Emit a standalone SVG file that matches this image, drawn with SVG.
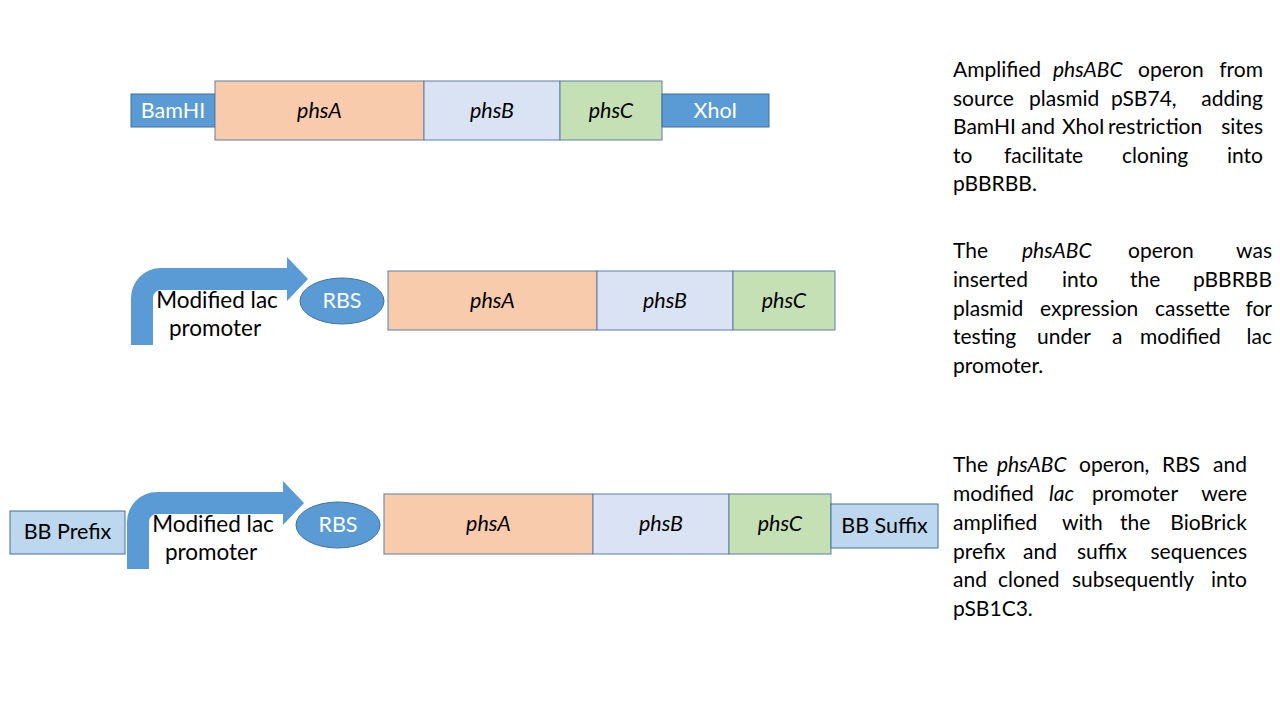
<svg xmlns="http://www.w3.org/2000/svg" width="1280" height="720" viewBox="0 0 1280 720">
<style>
  .site{fill:#5B9BD5;stroke:#41719C;stroke-width:1}
  .bb{fill:#BDD7EE;stroke:#41719C;stroke-width:1}
  .ga{fill:#F8CBAD;stroke:#5F7FA6;stroke-width:1}
  .gb{fill:#DAE3F3;stroke:#5F7FA6;stroke-width:1}
  .gc{fill:#C5E0B4;stroke:#5F7FA6;stroke-width:1}
  .prom{fill:#5B9BD5;stroke:none}
  .rbs{fill:#5B9BD5;stroke:#41719C;stroke-width:1}
  text{font-family:Lato,"Liberation Sans",sans-serif;font-size:21.5px}
  .w{fill:#FFFFFF;text-anchor:middle}
  .k{fill:#000000;text-anchor:middle}
  .pl{font-size:22.5px}
  .i{font-style:italic}
  .p{fill:#000000;font-size:21px}
  .e{text-anchor:end}
</style>
<rect width="1280" height="720" fill="#FFFFFF"/>

<!-- Row 1 -->
<g id="r1-bamhi"><rect class="site" x="131" y="94" width="84" height="33"/><text class="w" x="173" y="118">BamHI</text></g>
<g id="r1-phsA"><rect class="ga" x="215" y="81" width="209" height="59"/><text class="k i" x="319.5" y="118">phsA</text></g>
<g id="r1-phsB"><rect class="gb" x="424" y="81" width="136" height="59"/><text class="k i" x="492" y="118">phsB</text></g>
<g id="r1-phsC"><rect class="gc" x="560" y="81" width="102" height="59"/><text class="k i" x="611" y="118">phsC</text></g>
<g id="r1-xhoi"><rect class="site" x="662" y="94" width="107" height="33"/><text class="w" x="715.5" y="118">XhoI</text></g>

<!-- Row 2 -->
<g id="r2-promoter">
  <path class="prom" d="M131,345 L131,298 A30,30 0 0 1 161,268 L287,268 L287,257 L308,279 L287,301 L287,290 L161,290 A8,8 0 0 0 153,298 L153,345 Z"/>
  <text class="k pl" x="217" y="308">Modified lac</text>
  <text class="k pl" x="215" y="336">promoter</text>
</g>
<g id="r2-rbs"><ellipse class="rbs" cx="342" cy="301" rx="42" ry="23"/><text class="w" x="342" y="308">RBS</text></g>
<g id="r2-phsA"><rect class="ga" x="388" y="271" width="209" height="59"/><text class="k i" x="492.5" y="308">phsA</text></g>
<g id="r2-phsB"><rect class="gb" x="597" y="271" width="136" height="59"/><text class="k i" x="665" y="308">phsB</text></g>
<g id="r2-phsC"><rect class="gc" x="733" y="271" width="102" height="59"/><text class="k i" x="784" y="308">phsC</text></g>

<!-- Row 3 -->
<g id="r3-prefix"><rect class="bb" x="10" y="511" width="115" height="43"/><text class="k" x="67.5" y="539">BB Prefix</text></g>
<g id="r3-promoter">
  <path class="prom" d="M127,569 L127,522 A30,30 0 0 1 157,492 L283,492 L283,481 L304,503 L283,525 L283,514 L157,514 A8,8 0 0 0 149,522 L149,569 Z"/>
  <text class="k pl" x="213" y="532">Modified lac</text>
  <text class="k pl" x="211" y="560">promoter</text>
</g>
<g id="r3-rbs"><ellipse class="rbs" cx="338" cy="525" rx="42" ry="23"/><text class="w" x="338" y="532">RBS</text></g>
<g id="r3-phsA"><rect class="ga" x="384" y="494" width="209" height="60"/><text class="k i" x="488.5" y="531">phsA</text></g>
<g id="r3-phsB"><rect class="gb" x="593" y="494" width="136" height="60"/><text class="k i" x="661" y="531">phsB</text></g>
<g id="r3-phsC"><rect class="gc" x="729" y="494" width="102" height="60"/><text class="k i" x="780" y="531">phsC</text></g>
<g id="r3-suffix"><rect class="bb" x="831" y="504" width="107" height="44"/><text class="k" x="884.5" y="533">BB Suffix</text></g>

<!-- Descriptions -->
<g id="desc1">
  <text class="p" y="77"><tspan x="953">Amplified</tspan><tspan x="1053" class="i">phsABC</tspan><tspan x="1138">operon</tspan></text>
  <text class="p e" x="1263" y="77">from</text>
  <text class="p" y="106"><tspan x="953">source</tspan><tspan x="1029">plasmid</tspan><tspan x="1111">pSB74,</tspan></text>
  <text class="p e" x="1263" y="106">adding</text>
  <text class="p" y="134"><tspan x="953">BamHI</tspan><tspan x="1021">and</tspan><tspan x="1062">XhoI</tspan><tspan x="1108">restriction</tspan></text>
  <text class="p e" x="1263" y="134">sites</text>
  <text class="p" y="163"><tspan x="953">to</tspan><tspan x="1004">facilitate</tspan><tspan x="1122">cloning</tspan></text>
  <text class="p e" x="1263" y="163">into</text>
  <text class="p" x="953" y="191">pBBRBB.</text>
</g>
<g id="desc2">
  <text class="p" y="258"><tspan x="953">The</tspan><tspan x="1022" class="i">phsABC</tspan><tspan x="1128">operon</tspan></text>
  <text class="p e" x="1272" y="258">was</text>
  <text class="p" y="287"><tspan x="953">inserted</tspan><tspan x="1062">into</tspan><tspan x="1130">the</tspan></text>
  <text class="p e" x="1272" y="287">pBBRBB</text>
  <text class="p" y="316"><tspan x="953">plasmid</tspan><tspan x="1040">expression</tspan><tspan x="1155">cassette</tspan></text>
  <text class="p e" x="1272" y="316">for</text>
  <text class="p" y="344"><tspan x="953">testing</tspan><tspan x="1037">under</tspan><tspan x="1112">a</tspan><tspan x="1140">modified</tspan></text>
  <text class="p e" x="1272" y="344">lac</text>
  <text class="p" x="953" y="373">promoter.</text>
</g>
<g id="desc3">
  <text class="p" y="472"><tspan x="953">The</tspan><tspan x="997" class="i">phsABC</tspan><tspan x="1079">operon,</tspan><tspan x="1162">RBS</tspan></text>
  <text class="p e" x="1247" y="472">and</text>
  <text class="p" y="501"><tspan x="953">modified</tspan><tspan x="1049" class="i">lac</tspan><tspan x="1092">promoter</tspan></text>
  <text class="p e" x="1247" y="501">were</text>
  <text class="p" y="530"><tspan x="953">amplified</tspan><tspan x="1062">with</tspan><tspan x="1120">the</tspan></text>
  <text class="p e" x="1247" y="530">BioBrick</text>
  <text class="p" y="559"><tspan x="953">prefix</tspan><tspan x="1023">and</tspan><tspan x="1077">suffix</tspan></text>
  <text class="p e" x="1247" y="559">sequences</text>
  <text class="p" y="587"><tspan x="953">and</tspan><tspan x="998">cloned</tspan><tspan x="1072">subsequently</tspan></text>
  <text class="p e" x="1247" y="587">into</text>
  <text class="p" x="953" y="616">pSB1C3.</text>
</g>
</svg>
